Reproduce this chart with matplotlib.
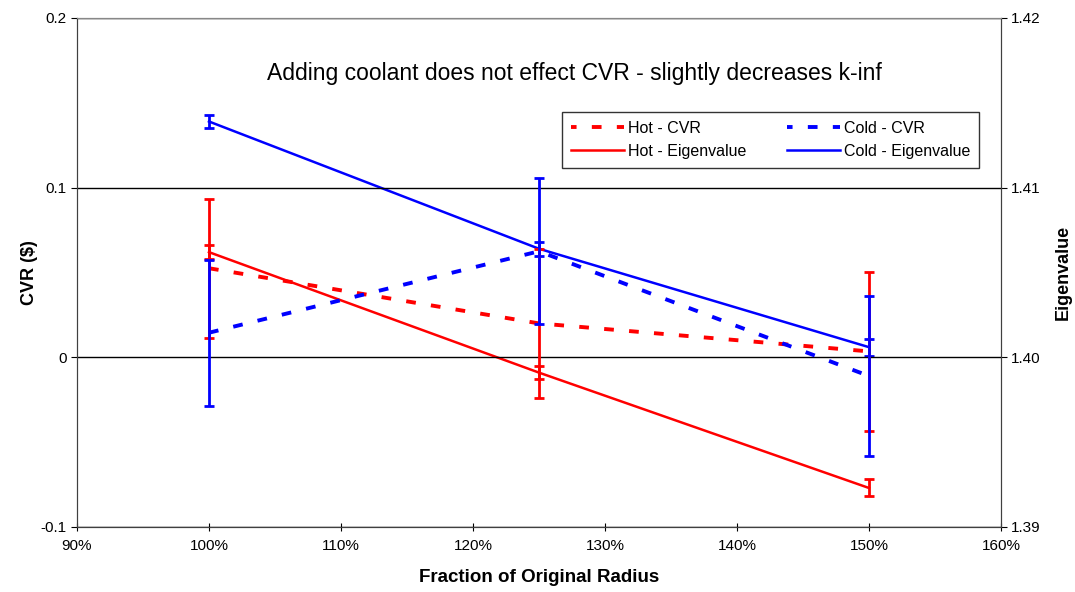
import matplotlib
matplotlib.use('Agg')
import matplotlib.pyplot as plt
from matplotlib.lines import Line2D
from matplotlib.ticker import PercentFormatter, MultipleLocator, FormatStrFormatter

plt.rcParams['font.family'] = ['Liberation Sans', 'DejaVu Sans']
plt.rcParams['lines.scale_dashes'] = False

# data
radius = [1.00, 1.25, 1.50]
hot_cvr = [0.0525, 0.0200, 0.0035]
hot_cvr_err = [0.041, 0.044, 0.047]
cold_cvr = [0.0145, 0.0625, -0.0110]
cold_cvr_err = [0.043, 0.043, 0.047]
hot_eig = [1.4062, 1.3991, 1.3923]
hot_eig_err = [0.0004, 0.0004, 0.0005]
cold_eig = [1.4139, 1.4064, 1.4006]
cold_eig_err = [0.0004, 0.0004, 0.0005]

fig = plt.figure(figsize=(10.75, 5.92), dpi=100)
ax = fig.add_axes([0.0716, 0.1098, 0.8595, 0.8598])
ax2 = ax.twinx()

lw = 1.8
dlw = 2.8
cap = 3.8
dash = (7, 11)
red = '#ff0000'
blue = '#0000ff'

# CVR on the left axis
ax.errorbar(radius, hot_cvr, yerr=hot_cvr_err, color=red, lw=dlw,
            dashes=dash, capsize=cap, elinewidth=2, capthick=2, zorder=3)
ax.errorbar(radius, cold_cvr, yerr=cold_cvr_err, color=blue, lw=dlw,
            dashes=dash, capsize=cap, elinewidth=2, capthick=2, zorder=4)

# eigenvalues on the right axis
ax2.errorbar(radius, hot_eig, yerr=hot_eig_err, color=red, lw=lw,
             capsize=cap, elinewidth=2, capthick=2)
ax2.errorbar(radius, cold_eig, yerr=cold_eig_err, color=blue, lw=lw,
             capsize=cap, elinewidth=2, capthick=2)

ax.set_xlim(0.9, 1.6)
ax.set_ylim(-0.1, 0.2)
ax2.set_ylim(1.39, 1.42)
ax.xaxis.set_major_locator(MultipleLocator(0.1))
ax.xaxis.set_major_formatter(PercentFormatter(xmax=1, decimals=0))
ax.yaxis.set_major_locator(MultipleLocator(0.1))
ax.yaxis.set_major_formatter(FormatStrFormatter('%g'))
ax2.yaxis.set_major_locator(MultipleLocator(0.01))
ax2.yaxis.set_major_formatter(FormatStrFormatter('%.2f'))

ax.grid(axis='y', color='black', lw=1)
ax.set_axisbelow(True)
for s in ['left', 'right', 'bottom', 'top']:
    ax.spines[s].set_color('#404040')
    ax2.spines[s].set_color('#404040')
ax.spines['top'].set_color('#888888')
ax2.spines['top'].set_color('#888888')

ax.tick_params(axis='x', direction='inout', length=6, labelsize=11, pad=6)
ax.tick_params(axis='y', direction='out', length=4, labelsize=11)
ax2.tick_params(axis='y', direction='out', length=4, labelsize=11)

ax.set_xlabel('Fraction of Original Radius', fontsize=13.5, fontweight='bold', labelpad=11)
ax.set_ylabel('CVR (\\$)', fontsize=13, fontweight='bold', labelpad=2)
ax2.set_ylabel('Eigenvalue', fontsize=13, fontweight='bold', labelpad=10)

ax.text(0.5379, 0.89, 'Adding coolant does not effect CVR - slightly decreases k-inf',
        transform=ax.transAxes, ha='center', va='center', fontsize=16.5)

handles = [Line2D([], [], color=red, lw=dlw, linestyle=(3, dash)),
           Line2D([], [], color=red, lw=lw),
           Line2D([], [], color=blue, lw=dlw, linestyle=(3, dash)),
           Line2D([], [], color=blue, lw=lw)]
leg = ax.legend(handles,
                ['Hot - CVR', 'Hot - Eigenvalue', 'Cold - CVR', 'Cold - Eigenvalue'],
                ncol=2, loc='upper left', bbox_to_anchor=(0.525, 0.815),
                fontsize=11.5, frameon=True, fancybox=False, edgecolor='black',
                handlelength=3.3, handletextpad=0.25, columnspacing=2.6,
                borderpad=0.55, labelspacing=0.5, borderaxespad=0)
leg.get_frame().set_linewidth(1.0)
ax.set_zorder(ax2.get_zorder() + 1)
ax.patch.set_visible(False)

fig.savefig('out.png', dpi=100)
